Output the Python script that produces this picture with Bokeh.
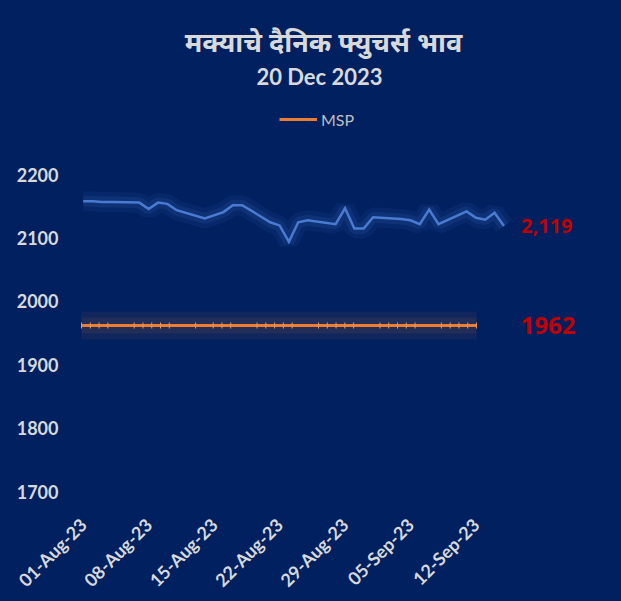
import datetime as dt
from math import pi

from bokeh.plotting import figure
from bokeh.models import (Range1d, DatetimeTickFormatter, FixedTicker, Label,
                          Legend, LegendItem)
from bokeh.embed import file_html
from bokeh.resources import INLINE

# ---------------- data ----------------
title_text = "मक्याचे दैनिक फ्युचर्स भाव"
subtitle_text = "20 Dec 2023"
legend_label = "MSP"

date_strings = [
    "2023-08-01", "2023-08-02", "2023-08-03", "2023-08-04",
    "2023-08-07", "2023-08-08", "2023-08-09", "2023-08-10", "2023-08-11",
    "2023-08-14", "2023-08-16", "2023-08-17", "2023-08-18",
    "2023-08-21", "2023-08-22", "2023-08-23", "2023-08-24", "2023-08-25",
    "2023-08-28", "2023-08-29", "2023-08-30", "2023-08-31", "2023-09-01",
    "2023-09-04", "2023-09-05", "2023-09-06", "2023-09-07", "2023-09-08",
    "2023-09-11", "2023-09-12", "2023-09-13", "2023-09-14", "2023-09-15",
]
futures = [
    2158, 2158, 2157, 2157,
    2156, 2146, 2156, 2154, 2144,
    2131, 2141, 2152, 2152,
    2125, 2120, 2094, 2125, 2128,
    2122, 2147, 2115, 2115, 2133,
    2130, 2128, 2122, 2145, 2122,
    2142, 2132, 2129, 2140, 2119,
]
msp = [
    1962, 1962, 1962, 1962,
    1962, 1962, 1962, 1962, 1962,
    1962, 1962, 1962, 1962,
    1962, 1962, 1962, 1962, 1962,
    1962, 1962, 1962, 1962, 1962,
    1962, 1962, 1962, 1962, 1962,
    1962, 1962, 1962, 1962, 1962,
]
x_tick_strings = ["2023-08-01", "2023-08-08", "2023-08-15", "2023-08-22",
                  "2023-08-29", "2023-09-05", "2023-09-12"]
y_ticks = [1700, 1800, 1900, 2000, 2100, 2200]

# ---------------- helpers ----------------
def to_dt(s):
    return dt.datetime.strptime(s, "%Y-%m-%d")

dates = [to_dt(s) for s in date_strings]
tick_dts = [to_dt(s) for s in x_tick_strings]
epoch = dt.datetime(1970, 1, 1)
tick_ms = [(d - epoch).total_seconds() * 1000 for d in tick_dts]
day = dt.timedelta(days=1)

BG = "#002060"
TXT = "#D9D9D9"
FONT = "Lato"
RED = "#C00000"

# frame covers the whole area right of the y axis and above the x axis,
# so that titles, legend and end labels are drawn inside it
p = figure(width=621, height=601, output_backend="svg", toolbar_location=None,
           x_axis_type="datetime",
           x_range=Range1d(dates[0] - 0.503 * day, dates[0] + 57.57 * day),
           y_range=Range1d(y_ticks[0], 2475),
           min_border_left=78, min_border_right=0,
           min_border_top=0, min_border_bottom=108,
           styles={"background-color": BG})
p.extra_x_ranges = {"msp": Range1d(dates[0] - 0.344 * day, dates[0] + 61.52 * day)}

p.background_fill_color = BG
p.border_fill_color = BG
p.outline_line_color = None
p.xgrid.grid_line_color = None
p.ygrid.grid_line_color = None

# y axis
p.yaxis.ticker = FixedTicker(ticks=y_ticks)
p.yaxis.axis_line_color = None
p.yaxis.major_tick_line_color = None
p.yaxis.minor_tick_line_color = None
p.yaxis.major_label_text_color = TXT
p.yaxis.major_label_text_font = FONT
p.yaxis.major_label_text_font_size = "18px"
p.yaxis.major_label_text_font_style = "bold"
p.yaxis.major_label_standoff = 14

# x axis
p.xaxis.ticker = FixedTicker(ticks=tick_ms)
fmt = "%d-%b-%y"
p.xaxis.formatter = DatetimeTickFormatter(days=fmt, months=fmt, years=fmt,
                                          hours=fmt, minutes=fmt, seconds=fmt,
                                          milliseconds=fmt, microseconds=fmt,
                                          hourmin=fmt, minsec=fmt)
p.xaxis.major_label_orientation = pi / 4
p.xaxis.axis_line_color = None
p.xaxis.major_tick_line_color = None
p.xaxis.minor_tick_line_color = None
p.xaxis.major_label_text_color = TXT
p.xaxis.major_label_text_font = FONT
p.xaxis.major_label_text_font_size = "18px"
p.xaxis.major_label_text_font_style = "bold"
p.xaxis.major_label_standoff = 24

# futures line with glow
p.line(dates, futures, line_color="#4472C4", line_width=20, line_alpha=0.09)
p.line(dates, futures, line_color="#4472C4", line_width=11, line_alpha=0.15)
p.line(dates, futures, line_color="#4A7BD2", line_width=2.5, line_join="miter")

# MSP line with glow (secondary x range)
p.line(dates, msp, x_range_name="msp", line_color="#ED7D31", line_width=28, line_alpha=0.07)
p.line(dates, msp, x_range_name="msp", line_color="#ED7D31", line_width=16, line_alpha=0.08)
msp_line = p.line(dates, msp, x_range_name="msp", line_color="#ED7D31", line_width=3)
p.scatter(dates, msp, x_range_name="msp", marker="dash", angle=pi / 2, size=6,
          line_color="#E39B66", line_width=1)

# legend
legend = Legend(items=[LegendItem(label=legend_label, renderers=[msp_line])],
                location=(201, 362), orientation="horizontal",
                background_fill_alpha=0, border_line_color=None,
                label_text_color="#BFBFBF", label_text_font=FONT,
                label_text_font_size="16px", glyph_width=38, glyph_height=20,
                label_height=20, padding=0, margin=0, label_standoff=4)
p.add_layout(legend)

# end labels
p.add_layout(Label(x=dates[-1], y=futures[-1], text=f"{futures[-1]:,}",
                   x_offset=17, text_baseline="middle", text_color=RED,
                   text_font="Open Sans", text_font_size="20px", text_font_style="bold"))
p.add_layout(Label(x=dates[-1], y=msp[-1], text=f"{msp[-1]}", x_range_name="msp",
                   x_offset=44, text_baseline="middle", text_color=RED,
                   text_font="Open Sans", text_font_size="24px", text_font_style="bold"))

# titles (screen units relative to the plot frame)
p.add_layout(Label(x=245, y=450, x_units="screen", y_units="screen", text=title_text,
                   text_align="center", text_baseline="middle", text_color=TXT,
                   text_font="Noto Sans", text_font_size="27px", text_font_style="bold"))
p.add_layout(Label(x=241, y=415, x_units="screen", y_units="screen", text=subtitle_text,
                   text_align="center", text_baseline="middle", text_color=TXT,
                   text_font=FONT, text_font_size="22px", text_font_style="bold"))

open("out.html", "w").write(file_html(p, INLINE))
